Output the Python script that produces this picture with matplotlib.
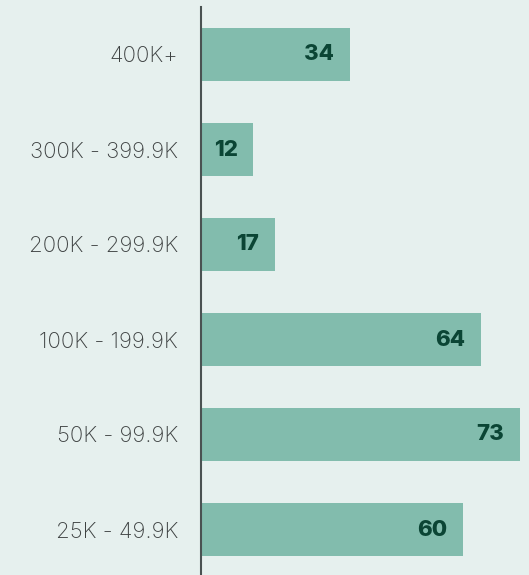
import matplotlib

matplotlib.use("Agg")
import matplotlib.pyplot as plt  # noqa: E402

categories = ["25K - 49.9K", "50K - 99.9K", "100K - 199.9K", "200K - 299.9K", "300K - 399.9K", "400K+"]
counts = [60, 73, 64, 17, 12, 34]

BG = "#e6f0ee"
BAR = "#82bcad"
VAL = "#0b4535"
LAB = "#3e4242"

plt.rcParams["font.family"] = ["Inter", "DejaVu Sans"]

fig = plt.figure(figsize=(5.29, 5.75), dpi=100, facecolor=BG)
# axes placed in pixel terms: left edge at x=201, top at y=7
ax = fig.add_axes([201 / 529, -2 / 575, 328 / 529, 570 / 575], facecolor=BG)

ypos = list(range(len(categories)))
ax.barh(ypos, counts, height=0.56, color=BAR, edgecolor="none")
for y, v in zip(ypos, counts):
    ax.annotate(str(v), (v, y), xytext=(-16, 0), textcoords="offset pixels",
                ha="right", va="center", fontsize=16, fontweight="heavy", color=VAL)

ax.set_xlim(0, 75)
ax.set_ylim(-0.5, 5.5)
ax.set_yticks(ypos)
ax.set_yticklabels(categories, fontsize=16, color=LAB, fontweight="light")
ax.tick_params(axis="y", length=0, pad=16.5)
ax.set_xticks([])
for s in ("top", "right", "bottom"):
    ax.spines[s].set_visible(False)
ax.spines["left"].set_color("#4a5252")
ax.spines["left"].set_linewidth(1.5)

fig.savefig("out.png", dpi=100, facecolor=BG)
